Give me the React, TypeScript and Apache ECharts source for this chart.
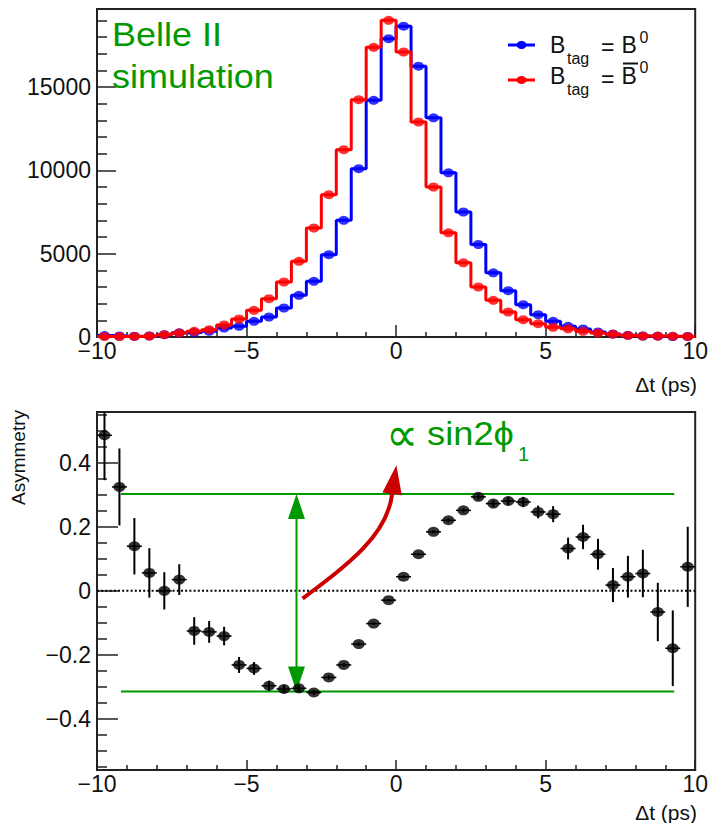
import React, { useEffect, useRef } from "react";
import * as echarts from "echarts";

// ---------- data ----------
const DT = [
  -9.75, -9.25, -8.75, -8.25, -7.75, -7.25, -6.75, -6.25, -5.75, -5.25,
  -4.75, -4.25, -3.75, -3.25, -2.75, -2.25, -1.75, -1.25, -0.75, -0.25,
  0.25, 0.75, 1.25, 1.75, 2.25, 2.75, 3.25, 3.75, 4.25, 4.75,
  5.25, 5.75, 6.25, 6.75, 7.25, 7.75, 8.25, 8.75, 9.25, 9.75,
];
const BIN_HALF = 0.25;

const N_B0 = [
  85, 60, 46, 67, 140, 250, 265, 340, 540, 640,
  940, 1200, 1740, 2500, 3340, 4940, 7000, 10100, 14200, 17900,
  18650, 16250, 13150, 9850, 7500, 5550, 3850, 2780, 1940, 1340,
  940, 640, 480, 300, 180, 100, 60, 50, 30, 35,
];
const N_B0BAR = [
  30, 30, 35, 60, 140, 240, 340, 440, 720, 1080,
  1600, 2300, 3300, 4540, 6540, 8540, 11240, 14240, 17380, 19000,
  17100, 12900, 9000, 6250, 4450, 3000, 2200, 1500, 1040, 800,
  580, 490, 340, 240, 170, 92, 54, 57, 43, 30,
];

const ASYM = [
  0.485, 0.324, 0.139, 0.056, 0.0, 0.035, -0.125, -0.128, -0.141, -0.231,
  -0.242, -0.296, -0.306, -0.304, -0.317, -0.27, -0.231, -0.166, -0.102, -0.029,
  0.044, 0.114, 0.184, 0.22, 0.251, 0.293, 0.272, 0.28, 0.277, 0.246,
  0.239, 0.132, 0.168, 0.114, 0.018, 0.044, 0.054, -0.066, -0.179, 0.075,
];
const ASYM_ERR = [
  0.14, 0.12, 0.088, 0.077, 0.058, 0.048, 0.043, 0.034, 0.029, 0.025,
  0.02, 0.016, 0.012, 0.01, 0.008, 0.007, 0.006, 0.005, 0.004, 0.004,
  0.004, 0.004, 0.005, 0.006, 0.007, 0.009, 0.011, 0.013, 0.016, 0.02,
  0.025, 0.034, 0.038, 0.048, 0.053, 0.065, 0.074, 0.091, 0.118, 0.125,
];

const X_MIN = -10;
const X_MAX = 10;
const X_INTERVAL = 5;
const Y1_MAX = 19680;
const Y1_MAJOR = [0, 5000, 10000, 15000];
const Y1_MINOR = [1000, 2000, 3000, 4000, 6000, 7000, 8000, 9000, 11000, 12000, 13000, 14000, 16000, 17000, 18000, 19000];
const Y2_MIN = -0.5586;
const Y2_MAX = 0.5576;
const Y2_MAJOR = [-0.4, -0.2, 0, 0.2, 0.4];
const Y2_MINOR = [-0.55, -0.5, -0.45, -0.35, -0.3, -0.25, -0.15, -0.1, -0.05, 0.05, 0.1, 0.15, 0.25, 0.3, 0.35, 0.45, 0.5, 0.55];

// annotation coordinates (data units of the lower panel)
const SIN_LINE_X = [-9.2, 9.3];
const SIN_LINE_HI = 0.302;
const SIN_LINE_LO = -0.314;
const AMP_ARROW_X = -3.33;
const RED_CURVE = [[-3.127, -0.024], [-1.567, 0.085], [-0.3, 0.173], [-0.133, 0.302]];
const RED_HEAD = [[-0.457, 0.3065], [0.19, 0.298], [0.01, 0.3916]];

// ---------- styles ----------
const FONT = '"Liberation Sans", Arial, Helvetica, sans-serif';
const BLUE = "#0000ff";
const RED = "#ff0000";
const GREEN = "#009900";
const DARKRED = "#cc0000";
const INK = "#111111";

const minusFmt = (v: number) => {
  const s = String(Math.round(v * 1000) / 1000);
  return s.replace("-", "\u2212");
};

function txt(text: string, x: number, y: number, size: number, opts: any = {}) {
  const align = opts.align || "left";
  const va = opts.va || "middle";
  const fam = opts.family || FONT;
  const weight = opts.weight || "normal";
  return {
    type: "text",
    x,
    y,
    rotation: opts.rotation || 0,
    scaleX: opts.scaleX || 1,
    scaleY: opts.scaleY || 1,
    z: 100,
    style: {
      text,
      x: 0,
      y: 0,
      fill: opts.fill || INK,
      fontSize: size,
      fontFamily: fam,
      fontWeight: weight,
      font: `${weight} ${size}px ${fam}`,
      align,
      textAlign: align,
      verticalAlign: va,
      textVerticalAlign: va,
    },
  };
}

function buildOption() {
  const stepData = (vals: number[]) => {
    const pts: number[][] = [];
    DT.forEach((c, i) => {
      pts.push([c - BIN_HALF, vals[i]]);
      pts.push([c + BIN_HALF, vals[i]]);
    });
    return pts;
  };
  const markerData = (vals: number[]) => DT.map((c, i) => [c, vals[i]]);
  const asymData = DT.map((c, i) => [c, ASYM[i], ASYM_ERR[i]]);

  const xAxisBase = (gridIndex: number, majorLen: number) => ({
    type: "value",
    gridIndex,
    min: X_MIN,
    max: X_MAX,
    interval: X_INTERVAL,
    axisLine: { show: true, onZero: false, lineStyle: { color: "#222", width: 2 } },
    axisTick: { show: true, inside: true, length: majorLen, lineStyle: { color: "#222", width: 1.5 } },
    minorTick: { show: true, splitNumber: 5, length: 5, lineStyle: { color: "#222", width: 1.5 } },
    splitLine: { show: false },
    minorSplitLine: { show: false },
    axisLabel: {
      show: true,
      margin: 2,
      fontSize: 23,
      fontFamily: FONT,
      color: INK,
      showMinLabel: true,
      showMaxLabel: true,
      formatter: minusFmt,
    },
  });

  const yMajor = (gridIndex: number, min: number, max: number, values: number[], len: number) => ({
    type: "value",
    gridIndex,
    min,
    max,
    position: "left",
    axisLine: { show: true, onZero: false, lineStyle: { color: "#222", width: 2 } },
    axisTick: { show: true, inside: true, length: len, customValues: values, lineStyle: { color: "#222", width: 1.5 } },
    splitLine: { show: false },
    axisLabel: {
      show: true,
      margin: 6,
      fontSize: 23,
      fontFamily: FONT,
      color: INK,
      customValues: values,
      formatter: minusFmt,
    },
  });
  const yMinor = (gridIndex: number, min: number, max: number, values: number[]) => ({
    type: "value",
    gridIndex,
    min,
    max,
    position: "left",
    offset: 0,
    axisLine: { show: false, onZero: false },
    axisTick: { show: true, inside: true, length: 10, customValues: values, lineStyle: { color: "#222", width: 1.5 } },
    splitLine: { show: false },
    axisLabel: { show: false },
  });

  const graphic: any[] = [
    // Belle II simulation
    txt("Belle II", 112, 35, 33, { fill: GREEN, scaleX: 1.09 }),
    txt("simulation", 112, 77, 33, { fill: GREEN, scaleX: 1.09 }),
    // axis titles
    txt("\u0394t (ps)", 697, 384, 21, { align: "right" }),
    txt("\u0394t (ps)", 697, 812, 21, { align: "right" }),
    txt("Asymmetry", 18, 410, 19, { align: "right", rotation: Math.PI / 2 }),
    // legend row 1
    { type: "line", z: 100, shape: { x1: 508, y1: 45, x2: 535, y2: 45 }, style: { stroke: BLUE, lineWidth: 3 } },
    { type: "ellipse", z: 101, shape: { cx: 521.5, cy: 45, rx: 5, ry: 4 }, style: { fill: BLUE } },
    txt("B", 550, 45, 23),
    txt("tag", 567, 58, 16),
    txt("=", 601, 46.5, 23),
    txt("B", 621.5, 45, 23),
    txt("0", 639.5, 37.5, 16),
    // legend row 2
    { type: "line", z: 100, shape: { x1: 508, y1: 80, x2: 535, y2: 80 }, style: { stroke: RED, lineWidth: 3 } },
    { type: "ellipse", z: 101, shape: { cx: 521.5, cy: 80, rx: 5, ry: 4 }, style: { fill: RED } },
    txt("B", 550, 76, 23),
    txt("tag", 567, 89, 16),
    txt("=", 601, 78.5, 23),
    txt("B", 621.5, 76, 23),
    { type: "line", z: 100, shape: { x1: 623, y1: 63.5, x2: 638, y2: 63.5 }, style: { stroke: INK, lineWidth: 2 } },
    txt("0", 639.5, 67.5, 16),
    // sin2phi1
    txt("\u221D", 385.5, 434.5, 30, { fill: GREEN, family: '"DejaVu Sans", sans-serif', weight: 200, scaleX: 1.5, scaleY: 1.6 }),
    txt("sin2\u03D5", 427, 434, 33, { fill: GREEN, scaleX: 1.1 }),
    txt("1", 518, 454, 20, { fill: GREEN }),
  ];

  return {
    animation: false,
    backgroundColor: "#ffffff",
    grid: [
      { left: 97, top: 9, width: 601, height: 328, show: true, borderColor: "#222", borderWidth: 2, backgroundColor: "transparent" },
      { left: 97, top: 412, width: 601, height: 358, show: true, borderColor: "#222", borderWidth: 2, backgroundColor: "transparent" },
    ],
    xAxis: [xAxisBase(0, 12), xAxisBase(1, 10)],
    yAxis: [
      yMajor(0, 0, Y1_MAX, Y1_MAJOR, 19),
      yMinor(0, 0, Y1_MAX, Y1_MINOR),
      yMajor(1, Y2_MIN, Y2_MAX, Y2_MAJOR, 21),
      yMinor(1, Y2_MIN, Y2_MAX, Y2_MINOR),
    ],
    graphic,
    series: [
      {
        type: "line",
        xAxisIndex: 0,
        yAxisIndex: 0,
        data: stepData(N_B0),
        showSymbol: false,
        symbol: "none",
        lineStyle: { color: BLUE, width: 3 },
        z: 2,
        silent: true,
      },
      {
        type: "scatter",
        xAxisIndex: 0,
        yAxisIndex: 0,
        data: markerData(N_B0),
        symbol: "circle",
        symbolSize: [11, 9],
        itemStyle: { color: BLUE },
        z: 3,
        silent: true,
      },
      {
        type: "line",
        xAxisIndex: 0,
        yAxisIndex: 0,
        data: stepData(N_B0BAR),
        showSymbol: false,
        symbol: "none",
        lineStyle: { color: RED, width: 3 },
        z: 4,
        silent: true,
      },
      {
        type: "scatter",
        xAxisIndex: 0,
        yAxisIndex: 0,
        data: markerData(N_B0BAR),
        symbol: "circle",
        symbolSize: [11, 9],
        itemStyle: { color: RED },
        z: 5,
        silent: true,
      },
      {
        type: "line",
        xAxisIndex: 1,
        yAxisIndex: 2,
        data: [[X_MIN, 0], [X_MAX, 0]],
        symbol: "none",
        lineStyle: { color: "#000", width: 2, type: [2, 2.2] },
        z: 2,
        silent: true,
      },
      {
        type: "line",
        xAxisIndex: 1,
        yAxisIndex: 2,
        data: [[SIN_LINE_X[0], SIN_LINE_HI], [SIN_LINE_X[1], SIN_LINE_HI]],
        symbol: "none",
        lineStyle: { color: GREEN, width: 2 },
        z: 3,
        silent: true,
      },
      {
        type: "line",
        xAxisIndex: 1,
        yAxisIndex: 2,
        data: [[SIN_LINE_X[0], SIN_LINE_LO], [SIN_LINE_X[1], SIN_LINE_LO]],
        symbol: "none",
        lineStyle: { color: GREEN, width: 2 },
        z: 3,
        silent: true,
      },
      {
        type: "custom",
        xAxisIndex: 1,
        yAxisIndex: 2,
        data: [[AMP_ARROW_X, SIN_LINE_HI]],
        z: 4,
        silent: true,
        renderItem: (_p: any, api: any) => {
          const top = api.coord([AMP_ARROW_X, SIN_LINE_HI]);
          const bot = api.coord([AMP_ARROW_X, SIN_LINE_LO]);
          const hw = 8.5;
          const hl = 25;
          const c = RED_CURVE.map((pt) => api.coord(pt));
          const h = RED_HEAD.map((pt) => api.coord(pt));
          return {
            type: "group",
            children: [
              { type: "line", shape: { x1: top[0], y1: top[1] + 4, x2: bot[0], y2: bot[1] - 4 }, style: { stroke: GREEN, lineWidth: 2 } },
              { type: "polygon", shape: { points: [[top[0], top[1]], [top[0] - hw, top[1] + hl], [top[0] + hw, top[1] + hl]] }, style: { fill: GREEN } },
              { type: "polygon", shape: { points: [[bot[0], bot[1]], [bot[0] - hw, bot[1] - hl], [bot[0] + hw, bot[1] - hl]] }, style: { fill: GREEN } },
              {
                type: "bezierCurve",
                shape: { x1: c[0][0], y1: c[0][1], cpx1: c[1][0], cpy1: c[1][1], cpx2: c[2][0], cpy2: c[2][1], x2: c[3][0], y2: c[3][1] },
                style: { stroke: DARKRED, lineWidth: 4, fill: "none" },
              },
              { type: "polygon", shape: { points: h.map((p: number[]) => [p[0], p[1]]) }, style: { fill: DARKRED } },
            ],
          };
        },
      },
      {
        type: "custom",
        xAxisIndex: 1,
        yAxisIndex: 2,
        data: asymData,
        dimensions: ["x", "y", "err"],
        encode: { x: 0, y: 1 },
        z: 6,
        silent: true,
        renderItem: (_p: any, api: any) => {
          const x = api.value(0);
          const y = api.value(1);
          const e = api.value(2);
          const c = api.coord([x, y]);
          const hi = api.coord([x, Math.min(y + e, Y2_MAX)]);
          const lo = api.coord([x, Math.max(y - e, Y2_MIN)]);
          const l = api.coord([x - BIN_HALF, y]);
          const r = api.coord([x + BIN_HALF, y]);
          return {
            type: "group",
            children: [
              { type: "line", shape: { x1: l[0], y1: c[1], x2: r[0], y2: c[1] }, style: { stroke: "#000", lineWidth: 1.5 } },
              { type: "line", shape: { x1: c[0], y1: hi[1], x2: c[0], y2: lo[1] }, style: { stroke: "#000", lineWidth: 2 } },
            ],
          };
        },
      },
      {
        type: "scatter",
        xAxisIndex: 1,
        yAxisIndex: 2,
        data: DT.map((c, i) => [c, ASYM[i]]),
        symbol: "circle",
        symbolSize: [12, 10],
        itemStyle: { color: "#000" },
        z: 7,
        silent: true,
      },
    ],
  };
}

export default function App() {
  const ref = useRef<HTMLDivElement>(null);
  useEffect(() => {
    if (!ref.current) return;
    const chart = echarts.init(ref.current, undefined, { renderer: "svg", width: 711, height: 823 });
    chart.setOption(buildOption() as any);
    return () => chart.dispose();
  }, []);
  return (
    <div
      ref={ref}
      style={{ position: "fixed", left: 0, top: 0, width: 711, height: 823, background: "#fff" }}
    />
  );
}
